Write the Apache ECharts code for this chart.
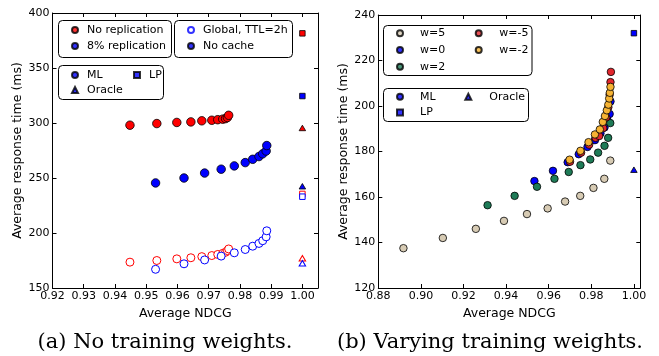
<!DOCTYPE html>
<html>
<head>
<meta charset="utf-8">
<script src="https://cdn.jsdelivr.net/npm/echarts@6/dist/echarts.min.js"></script>
<style>
  html, body { margin: 0; padding: 0; background: #fff; }
  #chart { width: 659px; height: 356px; }
</style>
</head>
<body>
<div id="chart"></div>
<script>
// (a) No training weights
const NOREP_X = [0.9448, 0.9534, 0.9598, 0.9643, 0.9678, 0.9710, 0.9729, 0.9745, 0.9754, 0.9760, 0.9764];
const NOREP_NOCACHE_Y = [298, 299.5, 300.5, 301, 302, 302.5, 303, 303.5, 304, 305, 307];
const NOREP_TTL_Y = [173.5, 175, 176.5, 177.5, 178.5, 179.5, 180.5, 181.5, 182.5, 184, 185.5];
const REP_X = [0.9530, 0.9621, 0.9687, 0.9740, 0.9782, 0.9817, 0.9841, 0.9861, 0.9873, 0.9884, 0.9886];
const REP_NOCACHE_Y = [245.5, 250, 254.5, 258, 261, 264, 267, 269.5, 272, 274.5, 279.5];
const REP_TTL_Y = [167, 172, 175.5, 179, 182, 185, 188, 190.5, 193, 196.5, 202];
// [no replication, 8% replication] at NDCG = 1
const LP_NOCACHE_Y = [381.5, 324.5];
const LP_TTL_Y = [235.5, 233];
const ORACLE_NOCACHE_Y = [295.5, 242.5];
const ORACLE_TTL_Y = [177, 172.5];

// (b) Varying training weights
const W5_X = [0.8918, 0.9103, 0.9258, 0.9390, 0.9498, 0.9595, 0.9677, 0.9748, 0.9810, 0.9861, 0.9889];
const W5_Y = [137.5, 142, 146, 149.5, 152.5, 155, 158, 160.5, 164, 168, 176];
const W0_X = [0.9533, 0.9620, 0.9689, 0.9741, 0.9782, 0.9817, 0.9843, 0.9862, 0.9876, 0.9886, 0.9890];
const W0_Y = [167, 171.5, 175.3, 178.8, 182, 185, 188, 190.6, 193.7, 196.5, 202];
const W2_X = [0.9313, 0.9440, 0.9545, 0.9627, 0.9694, 0.9749, 0.9795, 0.9832, 0.9862, 0.9879, 0.9889];
const W2_Y = [156.4, 160.5, 164.5, 168, 171, 174, 176.5, 179.5, 182.5, 186, 192.5];
const WM5_X = [0.9700, 0.9752, 0.9790, 0.9820, 0.9837, 0.9856, 0.9870, 0.9880, 0.9886, 0.9890, 0.9892];
const WM5_Y = [175.5, 179.5, 183, 186, 186.8, 190.3, 195, 199.5, 205, 210.5, 215];
const WM2_X = [0.9698, 0.9749, 0.9787, 0.9817, 0.9840, 0.9854, 0.9864, 0.9873, 0.9880, 0.9884, 0.9887, 0.9890];
const WM2_Y = [176.4, 180.3, 184.1, 187.5, 189.7, 193, 195.6, 198.1, 200.6, 203.3, 205.8, 208.4];
const LP_B_Y = 232;
const ORACLE_B_Y = 172;

const RED = '#ff0000';
const BLUE = '#0000ff';
const FONT = 'DejaVu Sans';

const zip = (xs, ys) => xs.map((x, i) => [x, ys[i]]);

const chart = echarts.init(document.getElementById('chart'), null, { renderer: 'canvas' });

function xAxisOf(grid, pos, min, max, interval, labels) {
  return {
    type: 'value', gridIndex: grid, position: pos, min, max, interval,
    name: labels ? 'Average NDCG' : '', nameLocation: 'middle', nameGap: 15,
    nameTextStyle: { fontFamily: FONT, fontSize: 12.5, color: '#000' },
    axisLine: { show: true, onZero: false, lineStyle: { color: '#000', width: 1 } },
    axisTick: { show: true, inside: true, length: 4, lineStyle: { color: '#000' } },
    axisLabel: {
      show: labels, margin: 3, fontFamily: FONT, fontSize: 11, color: '#000',
      formatter: (v) => Math.abs(v / interval - Math.round(v / interval)) < 1e-6 ? v.toFixed(2) : ''
    },
    splitLine: { show: false }
  };
}

function yAxisOf(grid, pos, min, max, interval, labels, gap) {
  return {
    type: 'value', gridIndex: grid, position: pos, min, max, interval,
    name: labels ? 'Average response time (ms)' : '', nameLocation: 'middle', nameGap: gap,
    nameTextStyle: { fontFamily: FONT, fontSize: 12.5, color: '#000' },
    axisLine: { show: true, onZero: false, lineStyle: { color: '#000', width: 1 } },
    axisTick: { show: true, inside: true, length: 4, lineStyle: { color: '#000' } },
    axisLabel: { show: labels, margin: 3, fontFamily: FONT, fontSize: 11, color: '#000' },
    splitLine: { show: false }
  };
}

function scatter(name, grid, data, symbol, size, fill, stroke) {
  return {
    type: 'scatter', name, xAxisIndex: grid * 2, yAxisIndex: grid * 2,
    data, symbol, symbolSize: size, silent: true,
    itemStyle: { color: fill, borderColor: stroke, borderWidth: fill === '#fff' ? 1 : 0.8, opacity: 1 }
  };
}

// legend-only series (no data)
function key(name, symbol, fill, stroke) {
  return {
    type: 'scatter', name, xAxisIndex: 0, yAxisIndex: 0, data: [], symbol,
    itemStyle: { color: fill, borderColor: stroke, borderWidth: fill === '#fff' ? 1 : 0.8 }
  };
}

function legendCol(left, top, names, lineH, pad) {
  return {
    orient: 'vertical', left, top, padding: 0, itemGap: 0, itemWidth: 6, itemHeight: 6,
    data: names, selectedMode: false, z: 10,
    textStyle: { fontFamily: FONT, fontSize: 11, color: '#000', lineHeight: lineH, padding: [0, 0, 0, pad] }
  };
}

function frame(x, y, w, h) {
  return {
    type: 'rect', z: 1, silent: true,
    shape: { x: x + 0.5, y: y + 0.5, width: w, height: h, r: 4 },
    style: { fill: '#fff', stroke: '#000', lineWidth: 1 }
  };
}

function caption(text, x) {
  return {
    type: 'text', x, y: 343, silent: true,
    style: { text, font: '21px "DejaVu Serif"', fill: '#000', align: 'center', verticalAlign: 'middle' }
  };
}

const option = {
  animation: false,
  backgroundColor: '#fff',
  grid: [
    { left: 52.5, top: 13, width: 265.5, height: 275, containLabel: false },
    { left: 378.3, top: 15, width: 262, height: 273, containLabel: false }
  ],
  xAxis: [
    xAxisOf(0, 'bottom', 0.92, 1.005, 0.01, true),
    xAxisOf(0, 'top', 0.92, 1.005, 0.01, false),
    xAxisOf(1, 'bottom', 0.88, 1.003, 0.02, true),
    xAxisOf(1, 'top', 0.88, 1.003, 0.02, false)
  ],
  yAxis: [
    yAxisOf(0, 'left', 150, 400, 50, true, 28),
    yAxisOf(0, 'right', 150, 400, 50, false, 0),
    yAxisOf(1, 'left', 120, 240, 20, true, 27),
    yAxisOf(1, 'right', 120, 240, 20, false, 0)
  ],
  legend: [
    legendCol(71, 22, ['No replication', '8% replication'], 16, 4),
    legendCol(187, 22, ['Global, TTL=2h', 'No cache'], 16, 4),
    legendCol(71, 67.5, ['ML', 'Oracle'], 15, 4),
    legendCol(133, 67.5, ['LP'], 15, 4),
    legendCol(396, 25, ['w=5', 'w=0', 'w=2'], 16.7, 12),
    legendCol(474.7, 25, ['w=-5', 'w=-2'], 16.7, 12.6),
    legendCol(396, 89, ['ML ', 'LP '], 15.6, 12),
    legendCol(464.3, 89, ['Oracle '], 15.6, 13)
  ],
  graphic: [
    frame(58, 20, 113, 37),
    frame(174, 20, 118, 37),
    frame(58, 65, 105, 34),
    frame(383, 25, 148.5, 50),
    frame(383, 88, 145, 33),
    caption('(a) No training weights.', 165),
    caption('(b) Varying training weights.', 490)
  ],
  series: [
    // legend keys
    key('No replication', 'circle', RED, '#000'),
    key('8% replication', 'circle', BLUE, '#000'),
    key('Global, TTL=2h', 'circle', '#fff', BLUE),
    key('No cache', 'circle', BLUE, '#000'),
    key('ML', 'circle', BLUE, '#000'),
    key('LP', 'rect', BLUE, '#000'),
    key('Oracle', 'triangle', BLUE, '#000'),
    key('ML ', 'circle', BLUE, '#000'),
    key('LP ', 'rect', BLUE, '#000'),
    key('Oracle ', 'triangle', BLUE, '#000'),
    key('w=5', 'circle', '#d7cbb4', '#000'),
    key('w=0', 'circle', BLUE, '#000'),
    key('w=2', 'circle', '#1e7b57', '#000'),
    key('w=-5', 'circle', '#e2262d', '#000'),
    key('w=-2', 'circle', '#f6b333', '#000'),

    // (a)
    scatter('a-norep-nocache', 0, zip(NOREP_X, NOREP_NOCACHE_Y), 'circle', 8.5, RED, '#000'),
    scatter('a-rep-nocache', 0, zip(REP_X, REP_NOCACHE_Y), 'circle', 8.5, BLUE, '#000'),
    scatter('a-norep-ttl', 0, zip(NOREP_X, NOREP_TTL_Y), 'circle', 8, '#fff', RED),
    scatter('a-rep-ttl', 0, zip(REP_X, REP_TTL_Y), 'circle', 8, '#fff', BLUE),
    scatter('a-lp-nocache-r', 0, [[1, LP_NOCACHE_Y[0]]], 'rect', 5.5, RED, '#000'),
    scatter('a-lp-nocache-b', 0, [[1, LP_NOCACHE_Y[1]]], 'rect', 5.5, BLUE, '#000'),
    scatter('a-lp-ttl-r', 0, [[1, LP_TTL_Y[0]]], 'rect', 5.5, '#fff', RED),
    scatter('a-lp-ttl-b', 0, [[1, LP_TTL_Y[1]]], 'rect', 5.5, '#fff', BLUE),
    scatter('a-or-nocache-r', 0, [[1, ORACLE_NOCACHE_Y[0]]], 'triangle', [6.5, 5.5], RED, '#000'),
    scatter('a-or-nocache-b', 0, [[1, ORACLE_NOCACHE_Y[1]]], 'triangle', [6.5, 5.5], BLUE, '#000'),
    scatter('a-or-ttl-r', 0, [[1, ORACLE_TTL_Y[0]]], 'triangle', [6.5, 5.5], '#fff', RED),
    scatter('a-or-ttl-b', 0, [[1, ORACLE_TTL_Y[1]]], 'triangle', [6.5, 5.5], '#fff', BLUE),

    // (b)
    scatter('b-w5', 1, zip(W5_X, W5_Y), 'circle', 7.5, '#d7cbb4', '#000'),
    scatter('b-w0', 1, zip(W0_X, W0_Y), 'circle', 7.5, BLUE, '#000'),
    scatter('b-w2', 1, zip(W2_X, W2_Y), 'circle', 7.5, '#1e7b57', '#000'),
    scatter('b-wm5', 1, zip(WM5_X, WM5_Y), 'circle', 7.5, '#e2262d', '#000'),
    scatter('b-wm2', 1, zip(WM2_X, WM2_Y), 'circle', 7.5, '#f6b333', '#000'),
    scatter('b-lp', 1, [[1, LP_B_Y]], 'rect', 5.5, BLUE, '#000'),
    scatter('b-oracle', 1, [[1, ORACLE_B_Y]], 'triangle', [6.5, 5.5], BLUE, '#000')
  ]
};

chart.setOption(option);
</script>
</body>
</html>
